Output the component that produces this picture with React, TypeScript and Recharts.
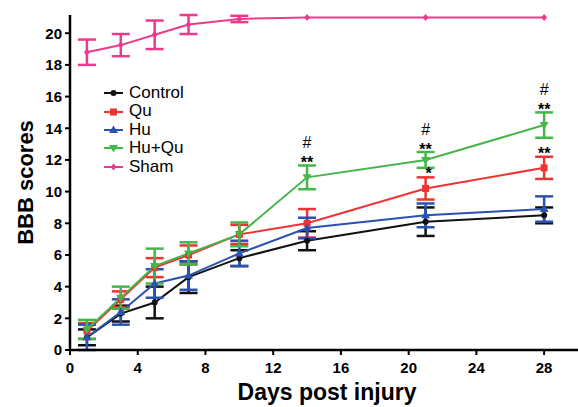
import React from 'react';
import {
  LineChart,
  Line,
  XAxis,
  YAxis,
  ErrorBar,
  ReferenceDot,
} from 'recharts';

// days after injury
const days = [1, 3, 5, 7, 10, 14, 21, 28];

// BBB means and SEM per group
const control = [0.8, 2.3, 3.0, 4.6, 5.8, 6.9, 8.1, 8.5];
const controlErr = [0.5, 0.5, 1.0, 1.0, 0.5, 0.6, 0.9, 0.5];
const qu = [1.2, 3.2, 5.2, 6.0, 7.3, 8.0, 10.2, 11.5];
const quErr = [0.5, 0.5, 0.6, 0.6, 0.6, 0.9, 0.7, 0.7];
const hu = [0.8, 2.4, 4.2, 4.7, 6.1, 7.7, 8.5, 8.9];
const huErr = [0.8, 0.8, 0.9, 0.9, 0.8, 0.65, 0.75, 0.8];
const huqu = [1.3, 3.3, 5.3, 6.1, 7.3, 10.9, 12.0, 14.2];
const huquErr = [0.6, 0.7, 1.1, 0.7, 0.75, 0.75, 0.5, 0.8];
const sham = [18.8, 19.25, 19.9, 20.55, 20.9, 21, 21, 21];
const shamErr = [0.8, 0.7, 0.9, 0.6, 0.2, 0, 0, 0];

// significance marks
const huquStars = ['', '', '', '', '', '**', '**', '**'];
const huquHash = ['', '', '', '', '', '#', '#', '#'];
const quStars = ['', '', '', '', '', '', '*', '**'];

const xTicks = [0, 4, 8, 12, 16, 20, 24, 28];
const yTicks = [0, 2, 4, 6, 8, 10, 12, 14, 16, 18, 20];

const data = days.map((d, i) => ({
  day: d,
  control: control[i],
  controlErr: controlErr[i],
  qu: qu[i],
  quErr: quErr[i],
  hu: hu[i],
  huErr: huErr[i],
  huqu: huqu[i],
  huquErr: huquErr[i],
  sham: sham[i],
  shamErr: shamErr[i],
}));

const series = [
  { key: 'control', name: 'Control', color: '#111111', shape: 'circle' },
  { key: 'qu', name: 'Qu', color: '#ee3333', shape: 'square' },
  { key: 'hu', name: 'Hu', color: '#2a52b0', shape: 'triUp' },
  { key: 'huqu', name: 'Hu+Qu', color: '#45b649', shape: 'triDown' },
  { key: 'sham', name: 'Sham', color: '#ec3a8c', shape: 'diamond' },
];

const FONT = '"Liberation Sans", Arial, sans-serif';

function Marker({ cx, cy, shape, color }: any) {
  if (cx == null || cy == null) return null;
  if (shape === 'circle') return <circle cx={cx} cy={cy} r={3} fill={color} />;
  if (shape === 'square') return <rect x={cx - 3.5} y={cy - 3.5} width={7} height={7} fill={color} />;
  if (shape === 'triUp')
    return <path d={`M${cx},${cy - 4.5} L${cx + 4.5},${cy + 3} L${cx - 4.5},${cy + 3} Z`} fill={color} />;
  if (shape === 'triDown')
    return <path d={`M${cx},${cy + 4.5} L${cx + 4.5},${cy - 3} L${cx - 4.5},${cy - 3} Z`} fill={color} />;
  return <path d={`M${cx},${cy - 3.5} L${cx + 3},${cy} L${cx},${cy + 3.5} L${cx - 3},${cy} Z`} fill={color} />;
}

function LegendBox() {
  return (
    <div
      style={{
        position: 'absolute',
        left: 103,
        top: 84,
        fontFamily: FONT,
        fontSize: 17,
        color: '#000',
        lineHeight: '18.4px',
      }}
    >
      {series.map((s) => (
        <div key={s.key} style={{ display: 'flex', alignItems: 'center', height: 18.4 }}>
          <svg width={22} height={12} style={{ marginRight: 4 }}>
            <line x1={1} y1={6} x2={20} y2={6} stroke={s.color} strokeWidth={2} />
            <Marker cx={10.5} cy={6} shape={s.shape} color={s.color} />
          </svg>
          <span>{s.name}</span>
        </div>
      ))}
    </div>
  );
}

const markText = (txt: string, dx: number, dy: number) => (p: any) => {
  const vb = p.viewBox || {};
  return (
    <text
      x={vb.x + (vb.width || 0) / 2 + dx}
      y={vb.y + dy}
      textAnchor="middle"
      fontFamily={FONT}
      fontSize={16}
      fontWeight={txt === '#' ? 'normal' : 'bold'}
      fill="#000"
    >
      {txt}
    </text>
  );
};

export default function App() {
  const marks: any[] = [];
  days.forEach((d, i) => {
    if (huquStars[i])
      marks.push({ x: d, y: huqu[i] + huquErr[i], txt: huquStars[i], dx: 0, dy: 3 });
    if (huquHash[i])
      marks.push({ x: d, y: huqu[i] + huquErr[i], txt: huquHash[i], dx: 0, dy: -17 });
    if (quStars[i])
      marks.push({ x: d, y: qu[i] + quErr[i], txt: quStars[i], dx: quStars[i] === '*' ? 3 : 0, dy: 2 });
  });

  return (
    <div style={{ position: 'absolute', left: 0, top: 0, width: 578, height: 407, background: '#fff' }}>
      <LineChart width={578} height={407} data={data} margin={{ top: 15, right: 0, bottom: 0, left: 0 }}>
        <XAxis
          dataKey="day"
          type="number"
          domain={[0, 30]}
          ticks={xTicks}
          height={57}
          axisLine={{ stroke: '#000', strokeWidth: 2.5 }}
          tickLine={{ stroke: '#000', strokeWidth: 2 }}
          tickSize={5}
          tickMargin={7}
          tick={{ fill: '#000', fontSize: 15, fontWeight: 'bold', fontFamily: FONT }}
          label={(p: any) => {
            const vb = p.viewBox;
            return (
              <text
                x={vb.x + vb.width / 2 + 3}
                y={400}
                textAnchor="middle"
                fontFamily={FONT}
                fontSize={23}
                fontWeight="bold"
                fill="#000"
              >
                Days post injury
              </text>
            );
          }}
        />
        <YAxis
          type="number"
          domain={[0, 21]}
          ticks={yTicks}
          width={70}
          axisLine={{ stroke: '#000', strokeWidth: 2.5 }}
          tickLine={{ stroke: '#000', strokeWidth: 2 }}
          tickSize={5}
          tickMargin={3}
          tick={{ fill: '#000', fontSize: 15, fontWeight: 'bold', fontFamily: FONT }}
          label={(p: any) => {
            const vb = p.viewBox;
            const cy = vb.y + vb.height / 2;
            return (
              <text
                x={25}
                y={cy}
                transform={`rotate(-90, 25, ${cy})`}
                textAnchor="middle"
                dominantBaseline="central"
                fontFamily={FONT}
                fontSize={22}
                fontWeight="bold"
                fill="#000"
              >
                BBB scores
              </text>
            );
          }}
        />
        {series.map((s) => (
          <Line
            key={s.key}
            dataKey={s.key}
            name={s.name}
            stroke={s.color}
            strokeWidth={2}
            isAnimationActive={false}
            dot={(p: any) => <Marker key={`${s.key}-${p.index}`} cx={p.cx} cy={p.cy} shape={s.shape} color={s.color} />}
            activeDot={false}
          >
            <ErrorBar
              dataKey={`${s.key}Err`}
              direction="y"
              width={9}
              strokeWidth={2.5}
              stroke={s.color}
              isAnimationActive={false}
            />
          </Line>
        ))}
        {marks.map((m, i) => (
          <ReferenceDot
            key={`m-${i}`}
            x={m.x}
            y={m.y}
            r={0}
            fill="none"
            stroke="none"
            label={markText(m.txt, m.dx, m.dy)}
          />
        ))}
      </LineChart>
      <LegendBox />
    </div>
  );
}
